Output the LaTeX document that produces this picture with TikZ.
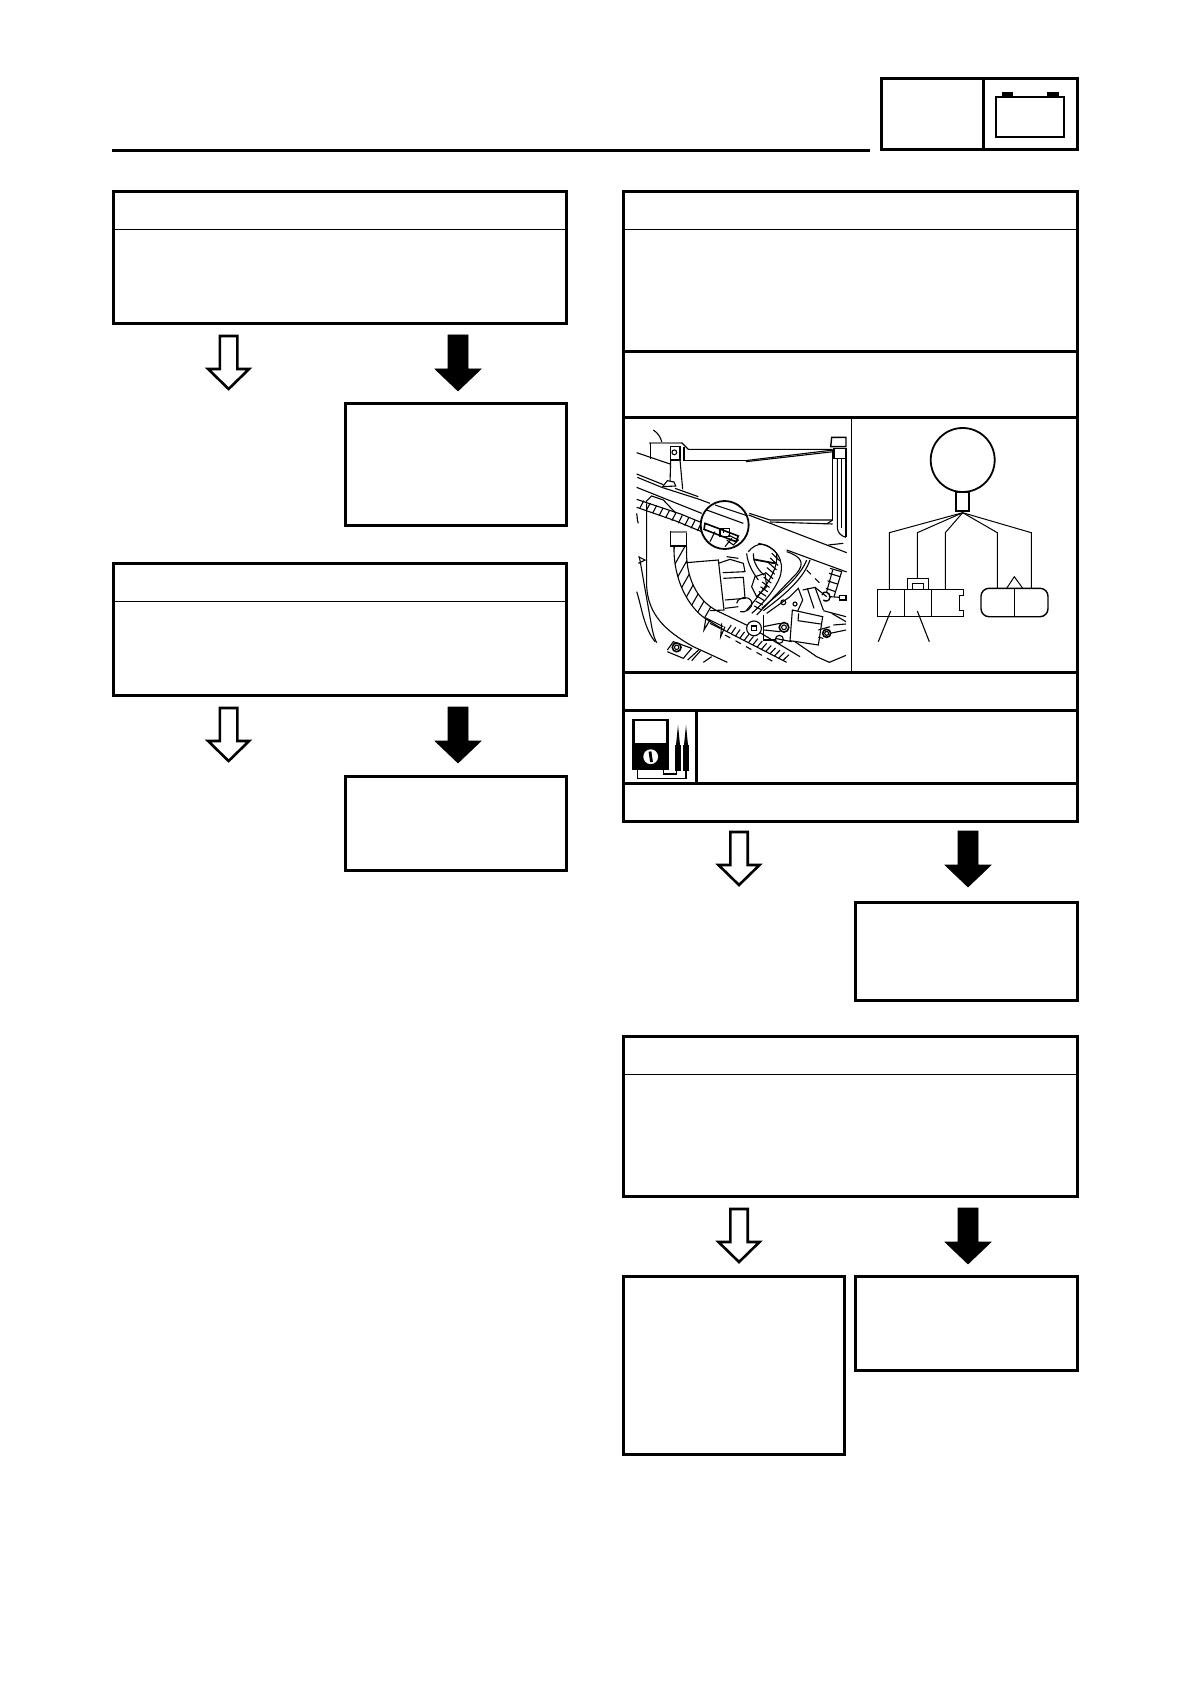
\documentclass[tikz,border=0pt]{standalone}
\usepackage{tikz}
\usetikzlibrary{calc, fit}
\tikzset{
  flowbox/.style={draw, line width=1.5pt, inner sep=0pt, outer sep=0pt},
  headrule/.style={line width=0.5pt},
  openarrow/.style={draw, fill=white, line width=1.3pt},
  solidarrow/.style={draw, fill=black, line width=0.3pt},
  hollowdown/.pic={\path[pic actions] (-8.7,2) -- (8.7,2) -- (8.7,35) -- (20.5,35) -- (0,55) -- (-20.5,35) -- (-8.7,35) -- cycle;},
  soliddown/.pic={\path[pic actions] (-10,1) -- (10,1) -- (10,35) -- (23,35) -- (0,57) -- (-23,35) -- (-10,35) -- cycle;},
  fine/.style={line width=0.55pt},
  wire/.style={line width=0.5pt}
}
\begin{document}
\begin{tikzpicture}[x=0.5pt,y=-0.5pt]
  \useasboundingbox (0,0) rectangle (1190,1684);
  % Header
  \draw[line width=1.5pt] (112,150.5) -- (870,150.5);
  \node[flowbox,fit={(881,79)(1077,149.5)}] (tabbox) {};
  \draw[line width=1.5pt] (983,79) -- (983,149.5);
  \draw[line width=0.9pt] (996,97) rectangle (1064,137);
  \fill (1002,92) rectangle (1013,97);
  \fill (1047,92) rectangle (1059,97);
  % Left column
  \node[flowbox,fit={(113,192)(566,324)}] (checkA) {};
  \draw[headrule] ($(checkA.north west)+(0,37.5)$) -- ($(checkA.north east)+(0,37.5)$);
  \pic[openarrow] (yesA) at (228.6,334) {hollowdown};
  \pic[solidarrow] (noA) at (458,334) {soliddown};
  \node[flowbox,fit={(345,404)(566,525.5)}] (fixA) {};
  \node[flowbox,fit={(113,563)(566,695)}] (checkB) {};
  \draw[headrule] ($(checkB.north west)+(0,38)$) -- ($(checkB.north east)+(0,38)$);
  \pic[openarrow] (yesB) at (228.6,706) {hollowdown};
  \pic[solidarrow] (noB) at (458,706) {soliddown};
  \node[flowbox,fit={(345,776)(566,870)}] (fixB) {};
  % Right column
  \node[flowbox,fit={(623,192)(1077,352)}] (checkC) {};
  \draw[headrule] ($(checkC.north west)+(0,37.5)$) -- ($(checkC.north east)+(0,37.5)$);
  \node[flowbox,fit={(623,352)(1077,418)}] (noteC) {};
  \node[flowbox,fit={(623,418)(1077,672)}] (viewC) {};
  \draw[wire] (851,418) -- (851,672);
  \node[flowbox,fit={(623,672)(1077,710)}] (labelC) {};
  \node[flowbox,fit={(623,710)(1077,783)}] (meterC) {};
  \draw[line width=1.5pt] (696,710) -- (696,783);
  \node[flowbox,fit={(623,783)(1077,821)}] (valueC) {};
  \pic[openarrow] (yesC) at (739,830) {hollowdown};
  \pic[solidarrow] (noC) at (968,830) {soliddown};
  \node[flowbox,fit={(855,902)(1077,1000.5)}] (fixC) {};
  \node[flowbox,fit={(623,1036)(1077,1196)}] (checkD) {};
  \draw[headrule] ($(checkD.north west)+(0,38)$) -- ($(checkD.north east)+(0,38)$);
  \pic[openarrow] (yesD) at (739,1207) {hollowdown};
  \pic[solidarrow] (noD) at (968,1207) {soliddown};
  \node[flowbox,fit={(623,1276)(844,1454)}] (fixD) {};
  \node[flowbox,fit={(855,1276)(1077,1370)}] (fixE) {};
  % Tester icon
  \draw[line width=1.3pt] (633.5,720) rectangle (667.5,744);
  \fill (632,744) rectangle (669,770);
  \fill[white] (650.7,756.7) circle (3.7pt);
  \draw[line width=1.4pt] (650,751.5) -- (651.5,762);
  \fill (675,745) rectangle (681,770.5);
  \fill (683,745) rectangle (689,770.5);
  \fill (676,745) -- (678,725) -- (680,745) -- cycle;
  \fill (684,745) -- (686,725) -- (688,745) -- cycle;
  \draw[fine] (637.5,770) -- (637.5,778.3) -- (686,778.3) -- (686,770);
  \draw[fine] (663.3,770) -- (663.3,774) -- (676.7,774) -- (676.7,770);
  % Wiring sketch
  \draw[line width=0.9pt,fill=white] (962.7,460) circle (16pt);
  \draw[line width=1pt] (956,491.7) rectangle (969.3,511);
  \draw[wire] (962.7,512.7) -- (889.3,532.7) -- (889.3,589.3);
  \draw[wire] (962.7,512.7) -- (917.3,532.7) -- (917.3,578.3);
  \draw[wire] (962.7,512.7) -- (945.3,532.7) -- (945.3,589.3);
  \draw[wire] (962.7,512.7) -- (997.3,532.7) -- (997.3,588.3);
  \draw[wire] (962.7,512.7) -- (1031.3,532.7) -- (1031.3,588.3);
  \draw[wire] (877.3,589.3) -- (963.3,589.3) -- (963.3,595.7) -- (959.3,595.7) -- (959.3,610.7) -- (963.3,610.7) -- (963.3,616.7) -- (877.3,616.7) -- cycle;
  \draw[wire] (904.3,589.3) -- (904.3,616.7);
  \draw[wire] (931.3,589.3) -- (931.3,616.7);
  \draw[wire] (907.3,589.3) -- (907.3,578.3) -- (928.3,578.3) -- (928.3,589.3);
  \draw[wire] (912.7,589.3) -- (912.7,583.3) -- (923.3,583.3) -- (923.3,589.3);
  \draw[line width=0.7pt,rounded corners=4pt] (981,588.3) rectangle (1048,616.7);
  \draw[wire] (1014.3,588.3) -- (1014.3,616.7);
  \draw[wire] (1006.7,588.3) -- (1014.3,576.7) -- (1022.7,588.3);
  \draw[fine] (890.7,611) -- (878.3,641.7);
  \draw[fine] (917.3,611) -- (929.3,641.7);
  % Photo, in crop pixels
  \begin{scope}[shift={(610,400)},x=0.16667pt,y=-0.16667pt,fine]
    % top bracket
    \draw (130,90) .. controls (145,100) and (152,112) .. (156,128);
    \draw[line width=0.9pt,gray] (118,128) -- (215,128);
    \draw (215,128) -- (235,148) -- (668,148);
    \draw (122,130) -- (122,176);
    \draw (80,158) -- (180,192);
    \draw (182,140) rectangle (210,180);
    \draw (193,157) circle (1.2pt);
    \draw (182,180) -- (180,250);
    \draw (210,180) -- (218,268);
    \draw (222,140) -- (222,182) -- (405,182);
    \draw (405,182) -- (670,150);
    \draw (408,185) -- (670,155);
    \draw[line width=0.7pt] (665,112) -- (708,112) -- (708,140) -- (662,140) -- cycle;
    \draw (672,145) rectangle (708,175);
    \draw (668,150) -- (668,360);
    \draw (682,175) -- (682,385) .. controls (684,400) and (694,408) .. (708,412);
    \draw (695,175) -- (695,385);
    \draw (708,175) -- (708,412);
    \draw (418,340) -- (480,360) -- (668,360);
    \draw (480,366) -- (668,372);
    \draw (668,360) -- (650,372);
    % frame rails
    \draw (80,222) -- (160,254);
    \draw (82,232) -- (155,262);
    \draw (155,262) -- (265,297) -- (300,310);
    \draw (195,265) -- (265,290);
    \draw[fill=white] (158,260) -- (172,242) -- (192,246) -- (197,258) -- cycle;
    \draw (80,262) -- (275,340);
    \draw (416,345) -- (710,458);
    \draw (530,450) -- (710,516);
    \draw (655,435) -- (700,430);
    % top hatched run
    \draw (80,298) -- (212,342) -- (280,370);
    \draw (80,322) -- (195,362) -- (275,395);
    \foreach \t in {0.05,0.15,...,1.0}
      \draw ($(80,320)!\t!(272,396)$) -- ($(92,298)!\t!(284,372)$);
    % body outline
    \draw (108,305) -- (125,288) -- (160,300) -- (198,340);
    \draw (110,310) -- (110,560) .. controls (115,640) and (160,690) .. (250,740) -- (352,787);
    \draw (85,470) -- (105,480) -- (85,490);
    \draw (88,470) -- (125,680) .. controls (130,705) and (135,720) .. (140,728);
    \draw (80,575) .. controls (95,620) and (100,680) .. (135,725);
    \draw (80,340) .. controls (85,350) and (78,355) .. (85,370);
    % curved hatched hose
    \begin{scope}
      \clip (192,440) .. controls (190,540) and (235,620) .. (285,655) -- (320,632) .. controls (260,600) and (225,530) .. (230,440) -- cycle;
      \foreach \i in {200,230,...,860}
        \draw (\i,430) -- ++(-130,230);
    \end{scope}
    \draw (192,440) .. controls (190,540) and (235,620) .. (285,655);
    \draw (230,440) .. controls (225,530) and (260,600) .. (320,632);
    \draw[fill=white] (182,396) rectangle (230,438);
    \draw[line width=1pt,gray] (184,396) -- (230,396);
    \draw (320,632) -- (420,680) -- (570,770);
    \draw (285,655) -- (345,692) -- (530,787);
    \foreach \t in {0.03,0.1,...,1.0}
      \draw ($(345,692)!\t!(530,787)$) -- ($(358,672)!\t!(548,770)$);
    % clips on hose
    \draw (288,652) -- (282,690) -- (300,660);
    \draw (335,670) -- (332,710) -- (345,680);
    \draw (290,655) -- (340,680);
    \draw (300,670) -- (330,685);
    % dashes lower
    \draw[dashed] (345,705) -- (490,785);
    \draw (555,725) -- (620,770) -- (658,787) -- (708,766);
    % lower left bolt
    \draw[line width=0.8pt] (200,742) circle (2.2pt);
    \draw (200,742) circle (1.1pt);
    \draw (172,750) -- (190,725) -- (245,745) -- (220,775) -- (172,755);
    \draw (233,780) -- (268,748);
    \draw (245,782) -- (272,752);
    \draw (280,787) -- (305,770);
    % relay box and blocks
    \draw (228,488) -- (325,480) -- (342,630) -- (300,632);
    \draw (325,490) -- (360,478) -- (400,490) -- (405,515) -- (338,518);
    \draw (340,535) -- (400,532) -- (405,595) -- (345,600);
    \draw (345,625) -- (385,620);
    \draw (350,470) -- (385,475);
    % harness
    \draw (380,610) .. controls (385,590) and (415,585) .. (425,605) .. controls (430,625) and (405,640) .. (390,635);
    \draw (445,430) .. controls (500,440) and (525,480) .. (510,530) .. controls (495,570) and (460,610) .. (425,640);
    \draw (415,455) .. controls (440,425) and (470,425) .. (500,460) .. controls (505,500) and (480,550) .. (410,630);
    \foreach \t in {0.08,0.16,...,1.0}
      \draw ($(490,445)!\t!(430,625)$) -- ($(515,470)!\t!(450,635)$);
    \draw (410,460) .. controls (412,490) and (430,520) .. (445,540);
    \draw (430,460) .. controls (430,490) and (445,510) .. (462,525);
    \draw (435,530) -- (465,520) -- (470,560) -- (440,590) -- (425,560) -- cycle;
    \draw[line width=0.9pt] (430,478) -- (495,490);
    \draw (530,455) .. controls (575,470) and (585,490) .. (560,520) -- (440,645);
    \draw (590,480) .. controls (570,530) and (520,570) .. (455,625);
    \draw (600,480) .. controls (580,535) and (530,580) .. (460,632);
    \draw[dashed] (590,510) -- (640,560);
    \draw (470,640) -- (540,590) -- (565,565) -- (578,600) -- (560,640);
    \draw (520,607) circle (1.2pt);
    \draw (555,612) circle (1pt);
    % right hand parts
    \draw (578,570) -- (615,562) -- (640,630);
    \draw (592,565) -- (612,625);
    \draw (615,562) -- (650,590);
    \draw (660,505) -- (695,515) -- (672,590);
    \draw (668,510) -- (650,575);
    \foreach \t in {0.2,0.5,0.8}
      \draw ($(660,505)!\t!(645,580)$) -- ($(695,515)!\t!(672,590)$);
    \draw[line width=0.7pt] (636,585) .. controls (640,570) and (660,575) .. (660,592) .. controls (658,605) and (645,605) .. (640,600);
    \draw (688,586) rectangle (708,600);
    \draw (660,590) -- (690,592);
    \draw (640,632) -- (708,650);
    \draw (665,640) -- (708,665);
    \draw (670,675) -- (708,672);
    \draw (660,700) -- (708,690);
    % bolts and relay
    \draw[fill=white] (432,685) circle (3.7pt);
    \draw (425,678) rectangle (439,692);
    \draw (460,645) -- (460,720) -- (495,720);
    \draw (460,680) -- (510,670);
    \draw (462,690) -- (510,695);
    \draw[line width=0.8pt] (522,682) circle (2.4pt);
    \draw (522,682) circle (1.2pt);
    \draw (508,718) circle (2pt);
    \draw (495,715) -- (545,725);
    \draw[fill=white] (547,630) -- (638,650) -- (625,735) -- (540,722) -- cycle;
    \draw (566,640) -- (564,662);
    \draw (564,662) -- (632,672);
    \draw[line width=0.8pt] (650,700) circle (2pt);
    \draw (650,700) circle (1pt);
    \draw (625,690) -- (660,680);
    \draw (625,712) -- (640,715);
    % inset circle
    \draw[line width=0.9pt,fill=white] (344,375) circle (12pt);
    \begin{scope}
      \clip (344,375) circle (12pt);
      \draw (315,315) -- (420,350);
      \draw (290,330) -- (400,370);
      \draw[line width=0.8pt] (285,370) -- (385,408) -- (378,425) -- (282,388) -- cycle;
      \draw (330,385) rectangle (358,410);
      \draw (340,385) -- (340,400);
      \draw (300,425) -- (315,395);
      \draw (345,440) -- (365,415);
      \draw (355,405) -- (385,420) -- (370,435) -- (350,420);
    \end{scope}
  \end{scope}
\end{tikzpicture}
\end{document}
